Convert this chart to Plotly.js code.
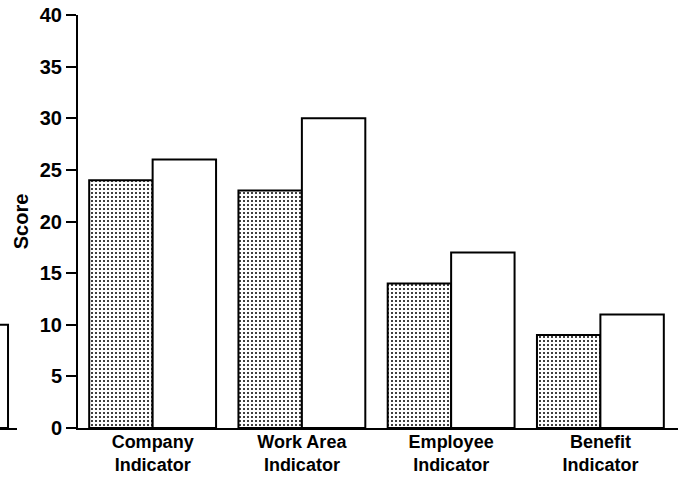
<!DOCTYPE html>
<html>
<head>
<meta charset="utf-8">
<script src="https://cdn.plot.ly/plotly-3.0.1.min.js"></script>
<style>html,body{margin:0;padding:0;background:#fff;}#chart{width:678px;height:485px;}</style>
</head>
<body>
<div id="chart"></div>
<script>
var categories = ["Company<br>Indicator", "Work Area<br>Indicator", "Employee<br>Indicator", "Benefit<br>Indicator"];
var shadedValues = [24, 23, 14, 9];
var whiteValues = [26, 30, 17, 11];
var yTickVals = [0, 5, 10, 15, 20, 25, 30, 35, 40];
var yTickText = ["0", "5", "10", "15", "20", "25", "30", "35", "40"];
// edge of the neighbouring panel, cut off at the left edge of the scan
var prevPanelX = [0];
var prevPanelValues = [10];

var fontFam = '"Liberation Sans", Arial, sans-serif';

var traces = [
  {
    type: 'bar', name: 'Shaded', x: categories, y: shadedValues,
    marker: {color: '#ffffff', line: {color: '#000', width: 2},
             pattern: {shape: '.', fgcolor: '#000', bgcolor: '#fff', size: 4, solidity: 0.2}},
    showlegend: false, hoverinfo: 'y'
  },
  {
    type: 'bar', name: 'White', x: categories, y: whiteValues,
    marker: {color: '#ffffff', line: {color: '#000', width: 2}},
    showlegend: false, hoverinfo: 'y'
  },
  {
    type: 'bar', name: 'Previous panel', x: prevPanelX, y: prevPanelValues,
    xaxis: 'x2', yaxis: 'y2', width: [1],
    marker: {color: '#ffffff', line: {color: '#000', width: 2}},
    showlegend: false, hoverinfo: 'skip'
  }
];

var layout = {
  width: 678, height: 485,
  margin: {l: 0, r: 0, t: 15, b: 57},
  paper_bgcolor: '#fff', plot_bgcolor: 'rgba(0,0,0,0)',
  barmode: 'group', bargap: 0.15, bargroupgap: 0,
  font: {family: fontFam, color: '#000', size: 18, weight: 'bold'},
  xaxis: {
    domain: [78/678, 1], type: 'category', range: [-0.5, 3.52],
    showline: true, linecolor: '#000', linewidth: 2,
    ticks: '', showgrid: false, zeroline: false,
    tickfont: {family: fontFam, size: 18, color: '#000', weight: 'bold'},
    ticklabelstandoff: -4,
    automargin: false
  },
  yaxis: {
    range: [0, 40], tickvals: yTickVals, ticktext: yTickText,
    showline: true, linecolor: '#000', linewidth: 2,
    ticks: 'outside', ticklen: 10, tickwidth: 2, tickcolor: '#000',
    showgrid: false, zeroline: false,
    tickfont: {family: fontFam, size: 20, color: '#000', weight: 'bold'},
    title: {text: 'Score', font: {family: fontFam, size: 20, color: '#000', weight: 'bold'}, standoff: 6},
    automargin: false
  },
  xaxis2: {
    domain: [0, 17/678], anchor: 'y2', range: [0, 1.06],
    showline: true, linecolor: '#000', linewidth: 2,
    showticklabels: false, ticks: '', showgrid: false, zeroline: false
  },
  yaxis2: {
    domain: [0, 1], anchor: 'x2', range: [0, 40], visible: false
  }
};

Plotly.newPlot('chart', traces, layout, {displayModeBar: false, staticPlot: true});
</script>
</body>
</html>
